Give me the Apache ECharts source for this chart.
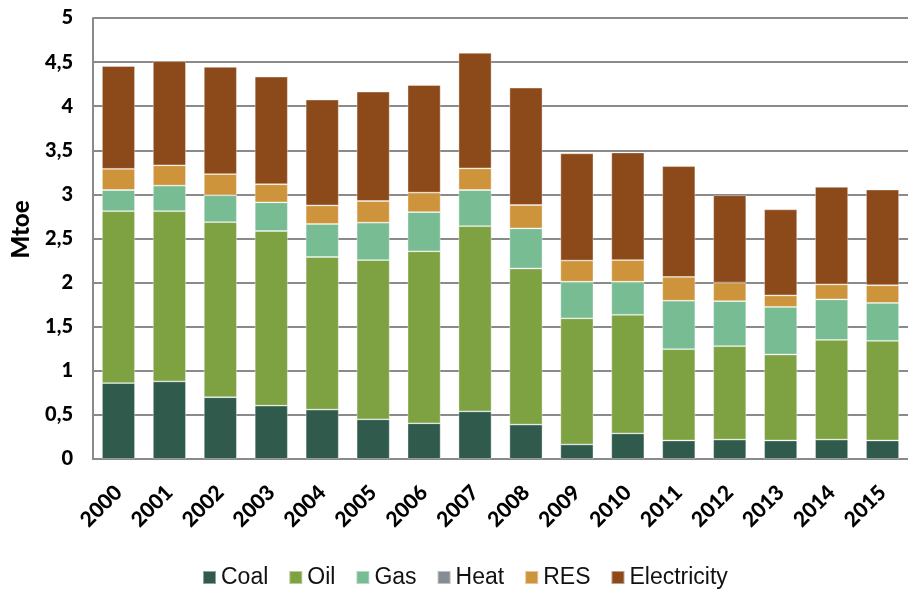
<!DOCTYPE html>
<html>
<head>
<meta charset="utf-8">
<script src="https://cdn.jsdelivr.net/npm/echarts@6/dist/echarts.min.js"></script>
<style>
  html, body { margin: 0; padding: 0; background: #fff; }
  #chart { width: 908px; height: 591px; }
</style>
</head>
<body>
<div id="chart"></div>
<script>
var years = ['2000', '2001', '2002', '2003', '2004', '2005', '2006', '2007',
             '2008', '2009', '2010', '2011', '2012', '2013', '2014', '2015'];
var coal = [0.86, 0.88, 0.70, 0.605, 0.56, 0.45, 0.405, 0.54, 0.39, 0.165, 0.29, 0.21, 0.22, 0.21, 0.22, 0.21];
var oil = [1.95, 1.93, 1.985, 1.98, 1.73, 1.805, 1.95, 2.10, 1.77, 1.43, 1.345, 1.035, 1.06, 0.975, 1.13, 1.13];
var gas = [0.24, 0.29, 0.305, 0.325, 0.375, 0.425, 0.445, 0.41, 0.455, 0.415, 0.375, 0.55, 0.51, 0.54, 0.46, 0.43];
var heat = [0, 0, 0, 0, 0, 0, 0, 0, 0, 0, 0, 0, 0, 0, 0, 0];
var res = [0.24, 0.23, 0.24, 0.205, 0.21, 0.245, 0.22, 0.245, 0.265, 0.24, 0.245, 0.27, 0.21, 0.13, 0.17, 0.20];
var electricity = [1.165, 1.18, 1.215, 1.22, 1.20, 1.24, 1.22, 1.31, 1.33, 1.215, 1.22, 1.255, 0.99, 0.975, 1.105, 1.085];

function bar(name, color, data) {
    return {
        name: name,
        type: 'bar',
        stack: 'total',
        barWidth: 33,
        itemStyle: {
            color: color,
            borderColor: 'rgba(255,255,255,0.45)',
            borderWidth: 0.8
        },
        data: data
    };
}

var myChart = echarts.init(document.getElementById('chart'));
myChart.setOption({
    backgroundColor: '#ffffff',
    animation: false,
    grid: {
        left: 93,
        right: -6,
        top: 18,
        bottom: 132
    },
    legend: {
        left: 197,
        top: 561,
        itemWidth: 13,
        itemHeight: 13,
        itemGap: 20,
        icon: 'rect',
        textStyle: {
            fontFamily: 'Liberation Sans',
            fontSize: 23,
            color: '#111'
        },
        data: ['Coal', 'Oil', 'Gas', 'Heat', 'RES', 'Electricity']
    },
    xAxis: {
        type: 'category',
        data: years,
        axisTick: { show: false },
        axisLine: {
            lineStyle: { color: '#8a8a8a', width: 2 }
        },
        axisLabel: {
            interval: 0,
            rotate: 45,
            margin: 30,
            fontFamily: 'Lato',
            fontWeight: 900,
            fontSize: 21,
            color: '#000'
        }
    },
    yAxis: {
        type: 'value',
        min: 0,
        max: 5,
        interval: 0.5,
        name: 'Mtoe',
        nameLocation: 'middle',
        nameRotate: 90,
        nameGap: 60,
        nameTextStyle: {
            fontFamily: 'Lato',
            fontWeight: 900,
            fontSize: 24,
            color: '#000',
            padding: [0, 0, 0, 18]
        },
        axisLine: {
            show: true,
            lineStyle: { color: '#8a8a8a', width: 2 }
        },
        axisTick: { show: false },
        splitLine: {
            lineStyle: { color: '#8a8a8a', width: 2 }
        },
        axisLabel: {
            margin: 20,
            fontFamily: 'Lato',
            fontWeight: 900,
            fontSize: 20,
            color: '#000',
            formatter: function (v) { return String(v).replace('.', ','); }
        }
    },
    series: [
        bar('Coal', '#2f5a4c', coal),
        bar('Oil', '#7ea142', oil),
        bar('Gas', '#78bc94', gas),
        bar('Heat', '#868c93', heat),
        bar('RES', '#ce943c', res),
        bar('Electricity', '#8c4a1a', electricity)
    ]
});
</script>
</body>
</html>
